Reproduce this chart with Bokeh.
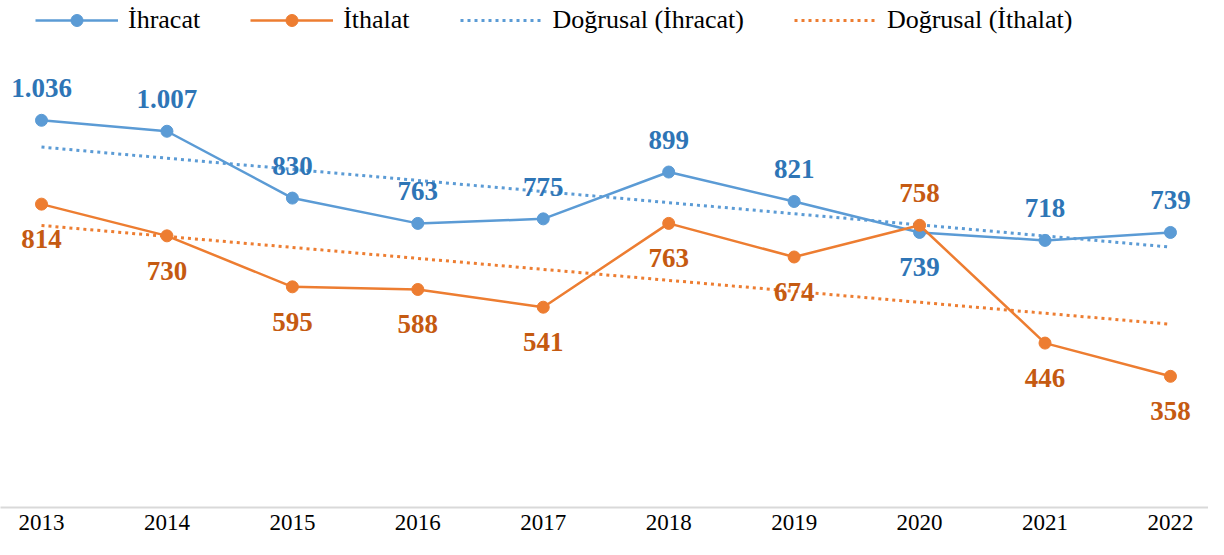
import numpy as np
from bokeh.plotting import figure
from bokeh.models import Range1d, Legend, LegendItem, ColumnDataSource, FixedTicker
from bokeh.core.properties import value
from bokeh.embed import file_html
from bokeh.resources import INLINE

years = [2013, 2014, 2015, 2016, 2017, 2018, 2019, 2020, 2021, 2022]
ihracat = [1036, 1007, 830, 763, 775, 899, 821, 739, 718, 739]
ithalat = [814, 730, 595, 588, 541, 763, 674, 758, 446, 358]
ihracat_labels = ["1.036", "1.007", "830", "763", "775", "899", "821", "739", "718", "739"]
ithalat_labels = ["814", "730", "595", "588", "541", "763", "674", "758", "446", "358"]
ihracat_side = ["above"] * 7 + ["below"] + ["above"] * 2
ithalat_side = ["below"] * 7 + ["above"] + ["below"] * 2

BLUE = "#5B9BD5"
ORANGE = "#ED7D31"
BLUE_TXT = "#2E75B6"
ORANGE_TXT = "#C55A11"
SERIF = "Liberation Serif"

x = np.array(years, dtype=float)
t_exp = np.polyval(np.polyfit(x, ihracat, 1), x)
t_imp = np.polyval(np.polyfit(x, ithalat, 1), x)

W, H = 1208, 539
bottom = 32
frame_h = H - bottom
scale = 0.3776          # px per unit
zero_px = 511           # pixel row of value 0
y_start = (zero_px - frame_h) / scale
y_end = y_start + frame_h / scale
x_start = 2013 - 41 / 125.44
x_end = x_start + W / 125.44

p = figure(width=W, height=H, output_backend="svg", toolbar_location=None,
           x_range=Range1d(x_start, x_end), y_range=Range1d(y_start, y_end),
           y_axis_location=None, min_border_left=0, min_border_right=0,
           min_border_top=0, min_border_bottom=bottom)
p.outline_line_color = None
p.xgrid.grid_line_color = None
p.ygrid.grid_line_color = None
p.background_fill_color = "white"

ax = p.xaxis[0]
ax.ticker = FixedTicker(ticks=years)
ax.major_tick_out = 0
ax.major_tick_in = 0
ax.minor_tick_out = 0
ax.minor_tick_in = 0
ax.axis_line_color = "#D9D9D9"
ax.axis_line_width = 2
ax.major_label_text_font = SERIF
ax.major_label_text_font_size = "23px"
ax.major_label_text_color = "black"
ax.major_label_standoff = 7

tr1 = p.line(years, list(t_exp), line_color=BLUE, line_width=3, line_dash="3 4")
tr2 = p.line(years, list(t_imp), line_color=ORANGE, line_width=3, line_dash="3 4")
l1 = p.line(years, ihracat, line_color=BLUE, line_width=2.5)
s1 = p.scatter(years, ihracat, size=12, fill_color=BLUE, line_color=BLUE)
l2 = p.line(years, ithalat, line_color=ORANGE, line_width=2.5)
s2 = p.scatter(years, ithalat, size=12, fill_color=ORANGE, line_color=ORANGE)

def offs(sides):
    return [-32 if s == "above" else 35 for s in sides]

src1 = ColumnDataSource(dict(x=years, y=ihracat, t=ihracat_labels, dy=offs(ihracat_side)))
src2 = ColumnDataSource(dict(x=years, y=ithalat, t=ithalat_labels, dy=offs(ithalat_side)))
for src, col in ((src1, BLUE_TXT), (src2, ORANGE_TXT)):
    p.text(x="x", y="y", text="t", y_offset="dy", source=src, text_color=col,
           text_font=value(SERIF), text_font_style="bold", text_font_size="27px",
           text_align="center", text_baseline="middle")

legend = Legend(items=[
    LegendItem(label="İhracat", renderers=[l1, s1]),
    LegendItem(label="İthalat", renderers=[l2, s2]),
    LegendItem(label="Doğrusal (İhracat)", renderers=[tr1]),
    LegendItem(label="Doğrusal (İthalat)", renderers=[tr2]),
], orientation="horizontal", location=(35, frame_h - 35))
legend.label_text_font = SERIF
legend.label_text_font_size = "26px"
legend.label_text_color = "black"
legend.glyph_width = 83
legend.glyph_height = 30
legend.label_height = 30
legend.label_standoff = 10
legend.spacing = 50
legend.padding = 0
legend.margin = 0
legend.border_line_color = None
legend.background_fill_alpha = 0
p.add_layout(legend)

open("out.html", "w").write(file_html(p, INLINE))
